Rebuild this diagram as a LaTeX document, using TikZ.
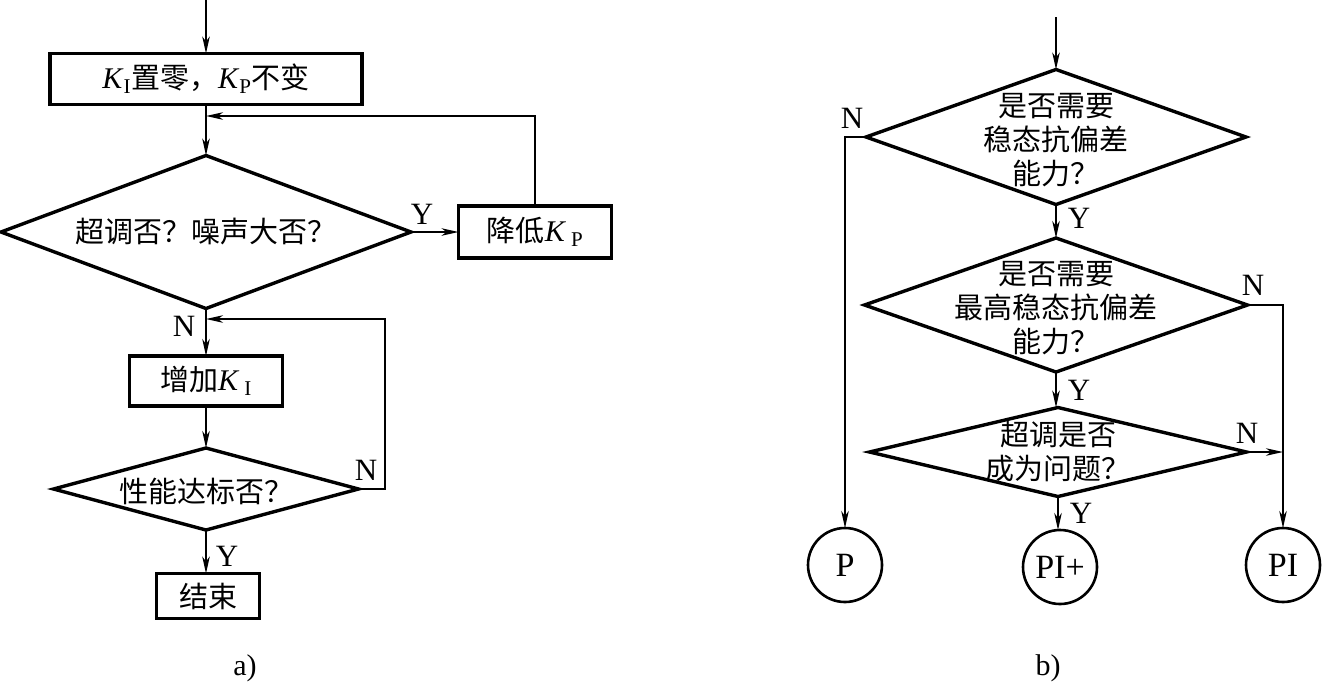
\documentclass[tikz,border=0pt]{standalone}
\usepackage{fontspec}
\setmainfont{Liberation Serif}
\newfontfamily\cjk{Noto Sans CJK SC}
\usetikzlibrary{shapes.geometric,arrows.meta}
\begin{document}
\begin{tikzpicture}[x=1pt,y=-1pt,
 every node/.style={font=\fontsize{30}{34}\selectfont, inner sep=0pt, outer sep=0pt},
 procbox/.style={draw, line width=3.4pt, rectangle},
 decide/.style={draw, line width=3.4pt, diamond, aspect=1},
 endc/.style={draw, line width=2.6pt, circle, minimum size=74pt, font=\fontsize{34}{38}\selectfont},
 conn/.style={line width=1.6pt},
 arr/.style={conn, -{Stealth[length=17pt,width=7.5pt,inset=5pt]}},
 yn/.style={font=\fontsize{31}{34}\selectfont},
 dtext/.style={align=center, font=\cjk\fontsize{29}{34}\selectfont}
]
\useasboundingbox (0,0) rectangle (1324,686);

% ---------------- a) ----------------
\coordinate (inA) at (206,0);
\node[procbox, minimum width=312pt, minimum height=51pt] (b1) at (206,79)
  {\textit{K}\textsubscript{I}{\cjk\fontsize{29}{34}\selectfont 置零，}\textit{K}\textsubscript{P}{\cjk\fontsize{29}{34}\selectfont 不变}};
\node[decide, minimum width=410pt, minimum height=153pt] (dL1) at (206,232) {};
\node[dtext] (tL1) at (206,232) {超调否？噪声大否？};
\node[procbox, minimum width=153pt, minimum height=52pt] (bKP) at (535,232)
  {{\cjk\fontsize{29}{34}\selectfont 降低}\textit{K}\,\textsubscript{P}};
\node[procbox, minimum width=153pt, minimum height=50pt] (b3) at (206,381)
  {{\cjk\fontsize{29}{34}\selectfont 增加}\textit{K}\,\textsubscript{I}};
\node[decide, minimum width=305pt, minimum height=82pt] (dL2) at (206,489) {};
\node[dtext] (tL2) at (206,491) {性能达标否？};
\node[procbox, minimum width=103pt, minimum height=45pt] (b4) at (208,596)
  {{\cjk\fontsize{29}{34}\selectfont 结束}};
\coordinate (j1) at (206,116);
\coordinate (j2) at (206,319);
\coordinate (c2) at (385,489);

\draw[arr] (inA) -- (b1.north);
\draw[arr] (b1.south) -- (dL1.north);
\draw[arr] (dL1.east) -- (bKP.west);
\draw[arr] (bKP.north) |- (j1);
\draw[arr] (dL1.south) -- (b3.north);
\draw[arr] (b3.south) -- (dL2.north);
\draw[arr] (dL2.east) -- (c2) |- (j2);
\draw[arr] (dL2.south) -- (b4.north -| dL2.south);

\node[yn] (yL1) at (422,214) {Y};
\node[yn] (nL1) at (184,326) {N};
\node[yn] (nL2) at (366,470) {N};
\node[yn] (yL2) at (227,556) {Y};
\node (capa) at (245,668) {a)};

% ---------------- b) ----------------
\coordinate (inB) at (1056,17);
\node[decide, minimum width=380pt, minimum height=135pt] (dA) at (1056,137) {};
\node[dtext] (tA) at (1056,140) {是否需要\\稳态抗偏差\\能力？};
\node[decide, minimum width=383pt, minimum height=134pt] (dB) at (1056,305) {};
\node[dtext] (tB) at (1056,308) {是否需要\\最高稳态抗偏差\\能力？};
\node[decide, minimum width=377pt, minimum height=89pt] (dC) at (1058,452) {};
\node[dtext] (tC) at (1058,452) {超调是否\\成为问题？};
\node[endc] (P) at (845,565) {P};
\node[endc] (PIp) at (1060,567) {PI+};
\node[endc] (PI) at (1283,565) {PI};

\draw[arr] (inB) -- (dA.north);
\draw[arr] (dA.south) -- (dB.north);
\draw[arr] (dB.south) -- (dC.north -| dB.south);
\draw[arr] (dC.south) -- (PIp.north -| dC.south);
\draw[arr] (dA.west) -- (dA.west -| P.north) -- (P.north);
\draw[arr] (dB.east) -- (dB.east -| PI.north) -- (PI.north);
\draw[arr] (dC.east) -- (dC.east -| PI.north);

\node[yn] (nA) at (852,118) {N};
\node[yn] (yA) at (1079,218) {Y};
\node[yn] (nB) at (1253,285) {N};
\node[yn] (yB) at (1079,390) {Y};
\node[yn] (nC) at (1247,433) {N};
\node[yn] (yC) at (1081,513) {Y};
\node (capb) at (1048,668) {b)};
\end{tikzpicture}
\end{document}
